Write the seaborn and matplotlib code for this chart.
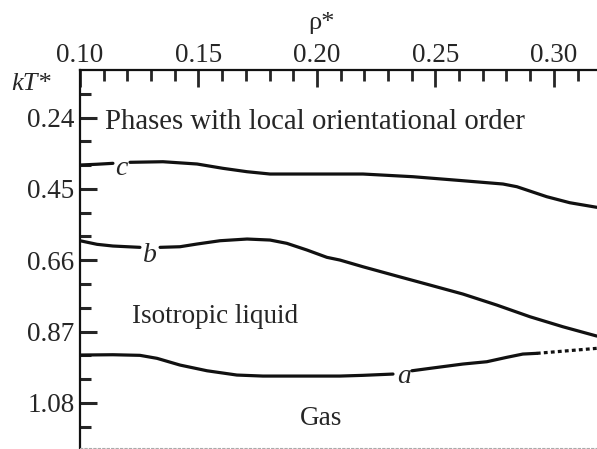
import numpy as np
import pandas as pd
import matplotlib
matplotlib.use('Agg')
import matplotlib.pyplot as plt
import seaborn as sns

# curve c (upper boundary), split where the label sits
c_rho_1 = [0.1000, 0.1072, 0.1139]
c_kt_1 = [0.3798, 0.3775, 0.3748]
c_rho_2 = [0.1211, 0.1350, 0.1494, 0.1603, 0.1705, 0.1802, 0.1916, 0.2097, 0.2194,
           0.2405, 0.2616, 0.2785, 0.2844, 0.2970, 0.3067, 0.3181]
c_kt_2 = [0.3718, 0.3701, 0.3768, 0.3895, 0.3995, 0.4063, 0.4063, 0.4063, 0.4063,
          0.4142, 0.4260, 0.4357, 0.4437, 0.4731, 0.4908, 0.5043]

# curve b
b_rho_1 = [0.1000, 0.1072, 0.1139, 0.1253]
b_kt_1 = [0.6027, 0.6133, 0.6183, 0.6222]
b_rho_2 = [0.1338, 0.1422, 0.1494, 0.1591, 0.1705, 0.1802, 0.1873, 0.1958, 0.2042,
           0.2097, 0.2194, 0.2337, 0.2477, 0.2616, 0.2759, 0.2899, 0.3038, 0.3181]
b_kt_2 = [0.6222, 0.6204, 0.6124, 0.6027, 0.5977, 0.6007, 0.6104, 0.6301, 0.6516,
          0.6596, 0.6793, 0.7067, 0.7332, 0.7597, 0.7921, 0.8265, 0.8560, 0.8834]

# curve a (lower boundary), dotted part at the end
a_rho_1 = [0.1000, 0.1139, 0.1253, 0.1325, 0.1422, 0.1536, 0.1662, 0.1772, 0.1916,
           0.2097, 0.2194, 0.2321]
a_kt_1 = [0.9393, 0.9384, 0.9402, 0.9490, 0.9688, 0.9856, 0.9982, 1.0012, 1.0012,
          1.0012, 0.9991, 0.9953]
a_rho_2 = [0.2401, 0.2477, 0.2616, 0.2717, 0.2801, 0.2869, 0.2928]
a_kt_2 = [0.9856, 0.9785, 0.9658, 0.9590, 0.9461, 0.9364, 0.9343]
a_rho_dot = [0.2928, 0.3181]
a_kt_dot = [0.9343, 0.9196]

x_major = [0.10, 0.15, 0.20, 0.25, 0.30]
y_major = [0.24, 0.45, 0.66, 0.87, 1.08]
y_minor = [0.17, 0.31, 0.38, 0.52, 0.59, 0.73, 0.80, 0.94, 1.01, 1.15]

sns.set_style('white')
plt.rcParams['font.family'] = ['Liberation Serif', 'DejaVu Serif']

fig = plt.figure(figsize=(5.97, 4.49), dpi=100)
ax = fig.add_axes([80/597, 0.003, 517/597, 1 - 70/449 - 0.003])

for xs, ys in [(c_rho_1, c_kt_1), (c_rho_2, c_kt_2), (b_rho_1, b_kt_1),
               (b_rho_2, b_kt_2), (a_rho_1, a_kt_1), (a_rho_2, a_kt_2)]:
    sns.lineplot(x=xs, y=ys, ax=ax, color='#111111', lw=2.3, sort=False)
sns.lineplot(x=a_rho_dot, y=a_kt_dot, ax=ax, color='#111111', lw=2.3,
             sort=False, linestyle=(0, (1.2, 1.0)))

ax.set_xlim(0.10, 0.3182)
ax.set_ylim(1.212, 0.10)

ax.xaxis.tick_top()
ax.set_xticks(x_major)
ax.set_xticklabels(['%.2f' % v for v in x_major])
ax.set_xticks(np.arange(0.11, 0.32, 0.01), minor=True)
ax.set_yticks(y_major)
ax.set_yticklabels(['%.2f' % v for v in y_major])
ax.set_yticks(y_minor, minor=True)
ax.tick_params(axis='x', which='major', direction='in', length=12, width=2, labelsize=19.5, pad=1.5, top=True, bottom=False)
ax.tick_params(axis='x', which='minor', direction='in', length=8, width=2, top=True, bottom=False)
ax.tick_params(axis='y', which='major', direction='in', length=12, width=2.2, labelsize=19.5, pad=4, left=True)
ax.tick_params(axis='y', which='minor', direction='in', length=8, width=2.2, left=True)
ax.set_xlabel('')
ax.set_ylabel('')

ax.spines['right'].set_visible(False)
ax.spines['top'].set_linewidth(1.6)
ax.spines['left'].set_linewidth(1.6)
ax.spines['top'].set_color('#111111')
ax.spines['left'].set_color('#111111')
ax.spines['bottom'].set_color('#aaaaaa')
ax.spines['bottom'].set_linewidth(0.8)
ax.spines['bottom'].set_linestyle((0, (2, 2)))

fig.text(322/597, 1 - 23/449, 'ρ*', ha='center', va='center', fontsize=19)
fig.text(31/597, 1 - 84/449, 'kT*', ha='center', va='center', fontsize=19, style='italic')

ax.text(0.1992, 0.2738, 'Phases with local orientational order', ha='center', va='baseline', fontsize=20.7)
ax.text(0.1570, 0.845, 'Isotropic liquid', ha='center', va='baseline', fontsize=19.5)
ax.text(0.2017, 1.1455, 'Gas', ha='center', va='baseline', fontsize=19.5)
ax.text(0.1173, 0.409, 'c', ha='center', va='baseline', fontsize=20, style='italic')
ax.text(0.1295, 0.665, 'b', ha='center', va='baseline', fontsize=20, style='italic')
ax.text(0.2367, 1.022, 'a', ha='center', va='baseline', fontsize=20, style='italic')

fig.savefig('out.png', dpi=100)
